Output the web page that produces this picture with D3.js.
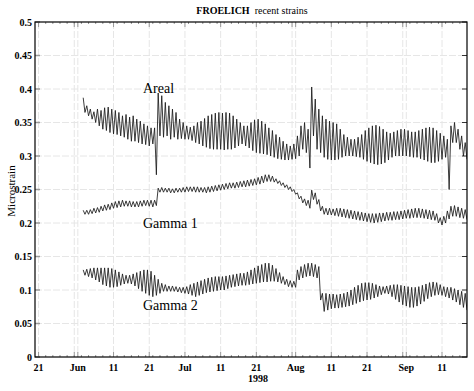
<!DOCTYPE html>
<html>
<head>
<meta charset="utf-8">
<script src="https://cdn.jsdelivr.net/npm/d3@7"></script>
<style>
body { margin: 0; background: #fff; }
svg { display: block; font-family: "Liberation Serif", "Times New Roman", serif; }
</style>
</head>
<body>
<svg id="chart" width="474" height="391"></svg>
<script>
// daily peaks (hi) and troughs (lo), one value per day from Jun 2 1998 12:00
var arealHi = [0.387,0.375,0.37,0.366,0.37,0.368,0.372,0.373,0.37,0.368,
	0.365,0.36,0.362,0.358,0.36,0.355,0.352,0.348,0.345,0.342,
	0.342,0.394,0.39,0.38,0.375,0.37,0.365,0.355,0.35,0.345,
	0.343,0.345,0.35,0.352,0.356,0.36,0.362,0.364,0.365,0.364,
	0.365,0.364,0.36,0.355,0.35,0.345,0.345,0.35,0.354,0.355,
	0.352,0.348,0.342,0.338,0.332,0.328,0.322,0.318,0.315,0.318,
	0.33,0.345,0.35,0.34,0.403,0.385,0.37,0.36,0.355,0.352,
	0.35,0.348,0.34,0.332,0.328,0.325,0.325,0.328,0.332,0.338,
	0.342,0.345,0.346,0.344,0.34,0.336,0.334,0.336,0.338,0.34,
	0.34,0.338,0.336,0.336,0.338,0.34,0.342,0.343,0.342,0.338,
	0.334,0.33,0.325,0.345,0.35,0.34,0.33,0.32];
var arealLo = [0.365,0.36,0.355,0.35,0.345,0.34,0.338,0.335,0.333,0.332,
	0.33,0.328,0.325,0.322,0.322,0.32,0.318,0.317,0.315,0.318,
	0.272,0.33,0.328,0.33,0.325,0.328,0.325,0.326,0.325,0.325,
	0.323,0.32,0.318,0.315,0.313,0.311,0.31,0.31,0.31,0.309,
	0.31,0.31,0.312,0.315,0.318,0.315,0.312,0.308,0.305,0.304,
	0.303,0.302,0.3,0.298,0.296,0.295,0.294,0.294,0.295,0.296,
	0.3,0.31,0.305,0.282,0.33,0.31,0.305,0.298,0.295,0.294,
	0.294,0.295,0.298,0.3,0.3,0.3,0.299,0.298,0.295,0.292,
	0.29,0.288,0.287,0.288,0.29,0.294,0.298,0.3,0.3,0.3,
	0.3,0.299,0.298,0.298,0.296,0.294,0.292,0.29,0.29,0.292,
	0.295,0.298,0.25,0.32,0.32,0.31,0.3,0.295];
var gamma1Hi = [0.219,0.219,0.22,0.222,0.223,0.225,0.227,0.228,0.23,0.232,
	0.233,0.234,0.233,0.233,0.232,0.232,0.233,0.234,0.234,0.234,
	0.234,0.252,0.253,0.252,0.252,0.251,0.252,0.252,0.253,0.254,
	0.254,0.254,0.254,0.253,0.253,0.254,0.255,0.256,0.257,0.258,
	0.259,0.26,0.26,0.261,0.262,0.263,0.264,0.265,0.266,0.268,
	0.27,0.272,0.272,0.27,0.266,0.263,0.26,0.257,0.254,0.25,
	0.245,0.24,0.236,0.234,0.249,0.245,0.235,0.225,0.222,0.222,
	0.221,0.222,0.222,0.221,0.22,0.219,0.218,0.217,0.216,0.215,
	0.214,0.214,0.214,0.215,0.215,0.216,0.216,0.217,0.217,0.218,
	0.219,0.22,0.221,0.222,0.222,0.221,0.22,0.219,0.218,0.214,
	0.208,0.21,0.218,0.225,0.226,0.224,0.222,0.22];
var gamma1Lo = [0.213,0.213,0.214,0.215,0.216,0.218,0.219,0.22,0.222,0.223,
	0.224,0.225,0.225,0.224,0.224,0.224,0.225,0.226,0.225,0.224,
	0.226,0.246,0.246,0.246,0.245,0.245,0.246,0.246,0.246,0.247,
	0.247,0.246,0.246,0.246,0.245,0.246,0.247,0.248,0.249,0.25,
	0.251,0.252,0.252,0.253,0.254,0.254,0.255,0.256,0.257,0.258,
	0.26,0.262,0.262,0.261,0.259,0.256,0.253,0.25,0.247,0.243,
	0.236,0.23,0.226,0.222,0.235,0.228,0.218,0.213,0.212,0.212,
	0.211,0.21,0.209,0.208,0.207,0.206,0.205,0.204,0.203,0.202,
	0.201,0.2,0.201,0.202,0.203,0.204,0.204,0.205,0.205,0.206,
	0.207,0.207,0.208,0.208,0.208,0.207,0.206,0.205,0.204,0.2,
	0.197,0.2,0.206,0.21,0.21,0.208,0.207,0.205];
var gamma2Hi = [0.13,0.131,0.132,0.133,0.133,0.133,0.133,0.133,0.132,0.13,
	0.127,0.124,0.122,0.122,0.124,0.126,0.128,0.13,0.13,0.128,
	0.122,0.116,0.11,0.108,0.106,0.106,0.105,0.104,0.104,0.105,
	0.108,0.11,0.112,0.114,0.116,0.118,0.119,0.12,0.12,0.12,
	0.121,0.122,0.123,0.124,0.125,0.125,0.127,0.13,0.133,0.136,
	0.138,0.14,0.14,0.137,0.132,0.126,0.12,0.116,0.114,0.113,
	0.13,0.135,0.138,0.14,0.14,0.138,0.135,0.095,0.095,0.094,
	0.094,0.093,0.094,0.095,0.097,0.1,0.104,0.107,0.11,0.111,
	0.111,0.11,0.108,0.106,0.105,0.106,0.107,0.108,0.108,0.107,
	0.106,0.105,0.104,0.104,0.105,0.107,0.109,0.111,0.112,0.111,
	0.108,0.105,0.104,0.104,0.102,0.1,0.098,0.095];
var gamma2Lo = [0.122,0.12,0.118,0.115,0.112,0.108,0.106,0.104,0.104,0.105,
	0.107,0.109,0.11,0.109,0.106,0.102,0.098,0.095,0.092,0.09,
	0.092,0.095,0.098,0.098,0.098,0.098,0.097,0.096,0.095,0.094,
	0.092,0.09,0.092,0.094,0.096,0.097,0.098,0.099,0.1,0.1,
	0.102,0.104,0.105,0.106,0.107,0.107,0.108,0.109,0.11,0.111,
	0.112,0.112,0.113,0.113,0.112,0.11,0.108,0.105,0.104,0.104,
	0.115,0.118,0.12,0.121,0.12,0.118,0.085,0.068,0.07,0.072,
	0.073,0.073,0.074,0.075,0.076,0.078,0.08,0.082,0.084,0.085,
	0.086,0.088,0.09,0.093,0.095,0.094,0.09,0.086,0.082,0.078,
	0.076,0.074,0.074,0.076,0.079,0.083,0.087,0.09,0.092,0.093,
	0.092,0.09,0.088,0.085,0.082,0.078,0.074,0.07];

var seriesNames = ["Areal", "Gamma 1", "Gamma 2"];
var seriesLabelPos = [[143, 93], [143, 228], [143, 310]];

var xTickDates = ["1998-05-21","1998-06-01","1998-06-11","1998-06-21","1998-07-01","1998-07-11",
	"1998-07-21","1998-08-01","1998-08-11","1998-08-21","1998-09-01","1998-09-11"];
var xTickLabels = ["21","Jun","11","21","Jul","11","21","Aug","11","21","Sep","11"];
var xGridOnly = ["1998-05-31","1998-07-31","1998-08-31"];
var yTicks = [0,0.05,0.1,0.15,0.2,0.25,0.3,0.35,0.4,0.45,0.5];

function renderChart() {
	var svg = d3.select('#chart');
	var m = {left: 35, top: 22, right: 467, bottom: 357};
	var parse = d3.timeParse('%Y-%m-%d');

	var x = d3.scaleTime()
		.domain([new Date(1998, 4, 20), new Date(1998, 8, 18)])
		.range([m.left, m.right]);
	var y = d3.scaleLinear().domain([0, 0.5]).range([m.bottom, m.top]);

	// grid
	var gridDates = xTickDates.concat(xGridOnly).map(parse);
	svg.append('g').selectAll('line').data(gridDates).join('line')
		.attr('x1', function(d) { return x(d); }).attr('x2', function(d) { return x(d); })
		.attr('y1', m.top).attr('y2', m.bottom)
		.style('stroke', '#e6e6e6').style('stroke-width', 1)
		.style('stroke-dasharray', '7,2');
	svg.append('g').selectAll('line').data(yTicks.slice(1, -1)).join('line')
		.attr('x1', m.left).attr('x2', m.right)
		.attr('y1', function(d) { return y(d); }).attr('y2', function(d) { return y(d); })
		.style('stroke', '#e6e6e6').style('stroke-width', 1)
		.style('stroke-dasharray', '7,2');

	// minor ticks every 2 days, top and bottom
	var minor = d3.timeDay.range(new Date(1998, 4, 21), new Date(1998, 8, 18), 2);
	var minorG = svg.append('g');
	minorG.selectAll('line.b').data(minor).join('line').attr('class', 'b')
		.attr('x1', function(d) { return x(d); }).attr('x2', function(d) { return x(d); })
		.attr('y1', m.bottom).attr('y2', m.bottom - 2)
		.style('stroke', '#777').style('stroke-width', 0.8);
	minorG.selectAll('line.t').data(minor).join('line').attr('class', 't')
		.attr('x1', function(d) { return x(d); }).attr('x2', function(d) { return x(d); })
		.attr('y1', m.top).attr('y2', m.top + 2)
		.style('stroke', '#777').style('stroke-width', 0.8);

	// major ticks, grey inward
	var majG = svg.append('g');
	majG.selectAll('line.b').data(gridDates).join('line').attr('class', 'b')
		.attr('x1', function(d) { return x(d); }).attr('x2', function(d) { return x(d); })
		.attr('y1', m.bottom).attr('y2', m.bottom - 5)
		.style('stroke', '#999').style('stroke-width', 1);
	majG.selectAll('line.t').data(gridDates).join('line').attr('class', 't')
		.attr('x1', function(d) { return x(d); }).attr('x2', function(d) { return x(d); })
		.attr('y1', m.top).attr('y2', m.top + 5)
		.style('stroke', '#999').style('stroke-width', 1);
	majG.selectAll('line.l').data(yTicks).join('line').attr('class', 'l')
		.attr('x1', m.left).attr('x2', m.left + 5)
		.attr('y1', function(d) { return y(d); }).attr('y2', function(d) { return y(d); })
		.style('stroke', '#999').style('stroke-width', 1.5);
	majG.selectAll('line.r').data(yTicks).join('line').attr('class', 'r')
		.attr('x1', m.right).attr('x2', m.right - 5)
		.attr('y1', function(d) { return y(d); }).attr('y2', function(d) { return y(d); })
		.style('stroke', '#333').style('stroke-width', 1);

	// series
	var start = new Date(1998, 5, 2, 12);
	function toPoints(hi, lo) {
		var pts = [];
		hi.forEach(function(v, i) {
			var t = d3.timeHour.offset(start, 24*i);
			pts.push({t: t, v: v});
			pts.push({t: d3.timeHour.offset(t, 12), v: lo[i]});
		});
		return pts;
	}
	var series = [toPoints(arealHi, arealLo), toPoints(gamma1Hi, gamma1Lo), toPoints(gamma2Hi, gamma2Lo)];

	svg.append('clipPath').attr('id', 'clip').append('rect')
		.attr('x', m.left).attr('y', m.top)
		.attr('width', m.right - m.left).attr('height', m.bottom - m.top);

	var line = d3.line()
		.x(function(d) { return x(d.t); })
		.y(function(d) { return y(d.v); });

	svg.append('g').attr('clip-path', 'url(#clip)')
		.selectAll('path').data(series).join('path')
		.attr('d', line)
		.style('fill', 'none')
		.style('stroke', '#1a1a1a')
		.style('stroke-width', 0.85);

	// frame
	svg.append('rect')
		.attr('x', m.left).attr('y', m.top)
		.attr('width', m.right - m.left).attr('height', m.bottom - m.top)
		.style('fill', 'none').style('stroke', '#000').style('stroke-width', 1.2);

	// tick labels
	svg.append('g').selectAll('text').data(xTickDates).join('text')
		.attr('x', function(d) { return x(parse(d)); })
		.attr('y', 371)
		.attr('text-anchor', 'middle')
		.style('font-size', '10px').style('font-weight', 'bold')
		.text(function(d, i) { return xTickLabels[i]; });
	svg.append('g').selectAll('text').data(yTicks).join('text')
		.attr('x', 32)
		.attr('y', function(d) { return y(d) + 3.5; })
		.attr('text-anchor', 'end')
		.style('font-size', '10px').style('font-weight', 'bold')
		.text(function(d) { return d3.format('')(d); });

	svg.append('text').attr('x', 258).attr('y', 382)
		.attr('text-anchor', 'middle')
		.style('font-size', '10px').style('font-weight', 'bold')
		.text('1998');

	svg.append('text')
		.attr('transform', 'translate(15,191) rotate(-90)')
		.attr('text-anchor', 'middle')
		.style('font-size', '11px')
		.text('Microstrain');

	var title = svg.append('text').attr('x', 252).attr('y', 14)
		.attr('text-anchor', 'middle')
		.style('font-size', '10px');
	title.append('tspan').style('font-weight', 'bold').text('FROELICH');
	title.append('tspan').text('\u00a0 recent strains');

	svg.append('g').selectAll('text').data(seriesNames).join('text')
		.attr('x', function(d, i) { return seriesLabelPos[i][0]; })
		.attr('y', function(d, i) { return seriesLabelPos[i][1]; })
		.style('font-size', '14px')
		.text(function(d) { return d; });
}

renderChart();
</script>
</body>
</html>
